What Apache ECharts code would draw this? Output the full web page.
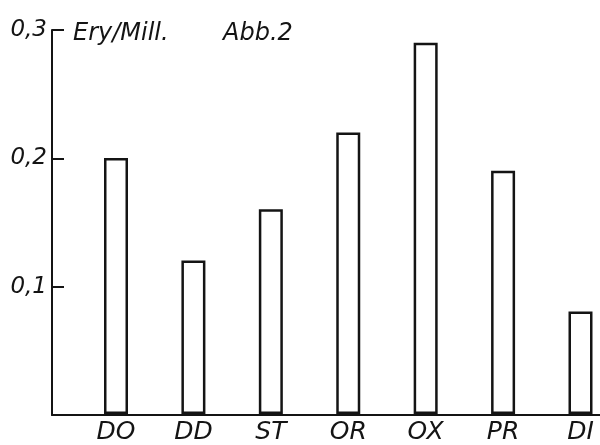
<!DOCTYPE html>
<html>
<head>
<meta charset="utf-8">
<script src="https://cdn.jsdelivr.net/npm/echarts@6/dist/echarts.min.js"></script>
<style>
html,body{margin:0;padding:0;background:#fff;}
#chart{width:600px;height:445px;}
</style>
</head>
<body>
<div id="chart"></div>
<script>
var categories = ['DO', 'DD', 'ST', 'OR', 'OX', 'PR', 'DI'];
var values = [0.20, 0.12, 0.16, 0.22, 0.29, 0.19, 0.08];
var yTickLabels = ['', '0,1', '0,2', '0,3'];
var unitLabel = 'Ery/Mill.';
var figureLabel = 'Abb.2';

var ink = '#141414';
var font = 'DejaVu Sans';

var chart = echarts.init(document.getElementById('chart'), null, {renderer: 'canvas'});
chart.setOption({
  animation: false,
  backgroundColor: '#ffffff',
  title: [
    {text: unitLabel, left: 68, top: 17,
     textStyle: {fontFamily: font, fontStyle: 'italic', fontWeight: 'normal', fontSize: 24, color: ink}},
    {text: figureLabel, left: 218, top: 17,
     textStyle: {fontFamily: font, fontStyle: 'italic', fontWeight: 'normal', fontSize: 24, color: ink}}
  ],
  grid: [
    {left: 52, right: 0, top: 30, bottom: 30},
    {left: 116, right: 19.5, top: 30, bottom: 30}
  ],
  xAxis: [
    {gridIndex: 0, type: 'value', min: 0, max: 1,
     axisLine: {show: true, lineStyle: {color: ink, width: 2}},
     axisTick: {show: false}, axisLabel: {show: false}, splitLine: {show: false}},
    {gridIndex: 1, type: 'category', data: categories, boundaryGap: false,
     axisLine: {show: false}, axisTick: {show: false}, splitLine: {show: false},
     axisLabel: {interval: 0, margin: 6, fontFamily: font, fontStyle: 'italic', fontSize: 25, color: ink}}
  ],
  yAxis: [
    {gridIndex: 0, type: 'value', min: 0, max: 0.3, interval: 0.1,
     axisLine: {show: true, lineStyle: {color: ink, width: 2}},
     axisTick: {show: true, inside: true, length: 12, lineStyle: {color: ink, width: 2}},
     splitLine: {show: false},
     axisLabel: {margin: 5, fontFamily: font, fontStyle: 'italic', fontSize: 23, color: ink,
       formatter: function (v) { return yTickLabels[Math.round(v * 10)] || ''; }}},
    {gridIndex: 1, type: 'value', min: 0, max: 0.3, show: false}
  ],
  series: [{
    type: 'bar',
    xAxisIndex: 1, yAxisIndex: 1,
    data: values,
    barWidth: 24,
    itemStyle: {color: '#ffffff', borderColor: ink, borderWidth: 2.5}
  }]
});
</script>
</body>
</html>
